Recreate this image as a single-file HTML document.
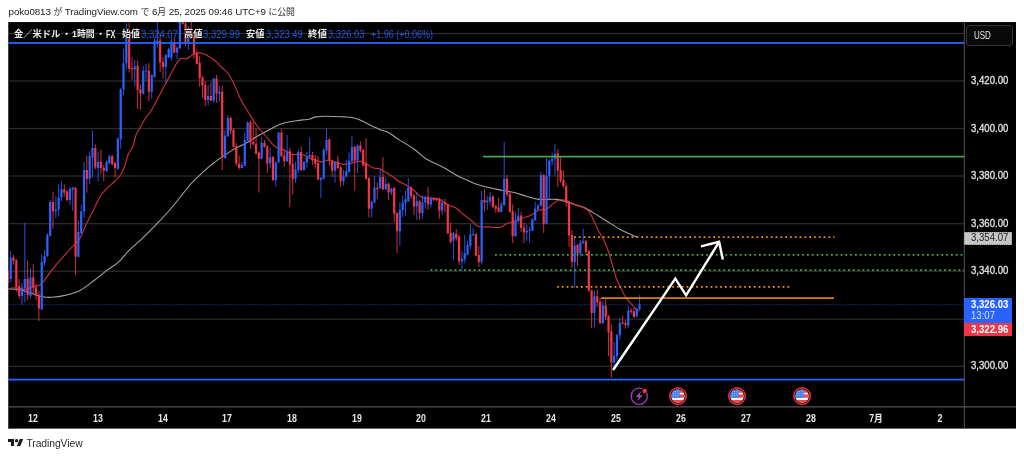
<!DOCTYPE html>
<html lang="ja"><head><meta charset="utf-8"><title>TradingView chart</title>
<style>
html,body{margin:0;padding:0;background:#fff;}
body{width:1024px;height:457px;position:relative;overflow:hidden;font-family:"Liberation Sans","Noto Sans CJK JP",sans-serif;}
.hdr{position:absolute;left:8.6px;top:5.1px;font-size:9.8px;line-height:13px;color:#222;white-space:nowrap;}
.hdr span{font-size:8.9px;color:#333}
.lg{position:absolute;top:27.7px;font-size:9.3px;line-height:13px;white-space:nowrap;transform-origin:0 50%;}
.lb{font-weight:bold;color:#ececec;text-shadow:0 0 2px #000,0 0 2px #000;}
.lv{color:#2457e6;}
.tl{position:absolute;top:411.8px;width:40px;margin-left:-20px;text-align:center;transform:scaleX(0.86);font-size:10.2px;line-height:13px;font-weight:bold;color:#e8e8e8;}
.pl{position:absolute;left:970.9px;width:44px;transform-origin:0 50%;transform:scaleX(0.932);font-size:10.3px;line-height:13px;font-weight:normal;color:#e4e4e4;-webkit-text-stroke:0.3px #e4e4e4;white-space:nowrap;}
.box{position:absolute;left:964.2px;width:47.8px;box-sizing:border-box;padding-left:6.7px;font-size:10.3px;font-weight:bold;white-space:nowrap;}
.box span{display:inline-block;transform-origin:0 50%;transform:scaleX(0.932);}
.usd{position:absolute;left:966px;top:24.5px;width:47px;height:21px;box-sizing:border-box;border:1px solid #353535;border-radius:3px;background:#0a0a0a;color:#e8e8e8;font-size:10.1px;line-height:19.4px;padding-left:6.6px;}
.foot{position:absolute;left:26.4px;top:437.1px;font-size:10.3px;line-height:13px;color:#2a2a2a;}
</style></head><body>

<div class="hdr" style="letter-spacing:-0.104px">poko0813 <span>が</span> TradingView.com <span>で</span> 6<span>月</span> 25, 2025 09:46 UTC+9 <span>に公開</span></div>
<svg width="1008" height="406.6" viewBox="8 22 1008 406.6" style="position:absolute;left:8px;top:22px;display:block">
<defs><clipPath id="pc"><rect x="8" y="22" width="956" height="385"/></clipPath></defs>
<rect x="8" y="22" width="1008" height="406.6" fill="#000"/>
<rect x="8" y="32.9" width="956" height="1.2" fill="#2e2e2e"/>
<rect x="8" y="80.4" width="956" height="1.2" fill="#2e2e2e"/>
<rect x="8" y="127.9" width="956" height="1.2" fill="#2e2e2e"/>
<rect x="8" y="175.4" width="956" height="1.2" fill="#2e2e2e"/>
<rect x="8" y="223.1" width="956" height="1.2" fill="#2e2e2e"/>
<rect x="8" y="270.6" width="956" height="1.2" fill="#2e2e2e"/>
<rect x="8" y="318.6" width="956" height="1.2" fill="#2e2e2e"/>
<rect x="8" y="365.7" width="956" height="1.2" fill="#2e2e2e"/>
<line x1="8" y1="22.5" x2="1016" y2="22.5" stroke="#2c2c2c" stroke-width="1" stroke-dasharray="1 1"/>
<line x1="8" y1="406.9" x2="1016" y2="406.9" stroke="#6c6c6c" stroke-width="1"/>
<line x1="964.3" y1="22" x2="964.3" y2="428.6" stroke="#555" stroke-width="1"/>
<rect x="8" y="22" width="1" height="406.6" fill="#444"/>
<g clip-path="url(#pc)">
<path d="M8 289 C9.76 289.06 15.5 288.81 19 289.4 C22.5 289.99 26.06 291.52 29.9 292.7 C33.74 293.88 39.5 296.06 43 296.8 C46.5 297.54 48.3 297.52 51.8 297.3 C55.3 297.08 60.39 296.47 64.9 295.4 C69.41 294.33 75.28 293.03 80 290.6 C84.72 288.17 90.16 283.4 94.4 280.2 C98.64 277 102.64 273.48 106.5 270.6 C110.36 267.72 115.04 265.27 118.5 262.2 C121.96 259.13 124.24 255.26 128.1 251.4 C131.96 247.54 137.98 242.53 142.6 238.1 C147.22 233.67 152.39 228.52 157 223.7 C161.61 218.88 166.78 213.39 171.4 208 C176.02 202.61 182.36 194.29 185.9 190 C189.44 185.71 189.36 185.3 193.5 181.2 C197.64 177.1 206.6 168.69 211.8 164.4 C217 160.11 222.33 156.9 226 154.4 C229.67 151.9 231.35 150.65 234.75 148.75 C238.15 146.85 243.65 144.5 247.25 142.5 C250.85 140.5 253.65 138.35 257.25 136.25 C260.85 134.15 266.35 131.2 269.75 129.4 C273.15 127.6 275.9 126.1 278.5 125 C281.1 123.9 283 123.2 286 122.5 C289 121.8 293.45 121.16 297.25 120.6 C301.05 120.04 306.95 119.56 309.75 119 C312.55 118.44 312.15 117.54 314.75 117.1 C317.35 116.66 321.32 116.28 326 116.25 C330.68 116.22 339.84 116.7 344 116.9 C348.16 117.1 349.44 117 352 117.5 C354.56 118 357.12 118.8 360 120 C362.88 121.2 366.64 123.4 370 125 C373.36 126.6 378.04 128.8 381 130 C383.96 131.2 385.7 131 388.5 132.5 C391.3 134 394.5 136.8 398.5 139.4 C402.5 142 409.1 145.65 413.5 148.75 C417.9 151.85 421.2 155.75 426 158.75 C430.8 161.75 438.7 164.9 443.5 167.5 C448.3 170.1 452.72 173.2 456 175 C459.28 176.8 460.32 177.15 464 178.75 C467.68 180.35 473 183.15 479 185 C485 186.85 495.9 189.1 501.5 190.3 C507.1 191.5 510 191.55 514 192.5 C518 193.45 522.5 195.15 526.5 196.25 C530.5 197.35 534.2 198.9 539 199.4 C543.8 199.9 551.5 198.81 556.5 199.4 C561.5 199.99 565.85 201.8 570.25 203.1 C574.65 204.4 580.52 206.09 584 207.5 C587.48 208.91 588.64 209.9 592 211.9 C595.36 213.9 600.32 217.1 605 220 C609.68 222.9 615.97 227.2 621.25 230 C626.53 232.8 635.32 236.3 638 237.5" fill="none" stroke="#a4a4a4" stroke-width="1.1" stroke-linejoin="round"/>
<path d="M8 288.8 C9.06 288.62 11.98 287.6 14.6 287.7 C17.22 287.8 21.42 289.56 24.4 289.4 C27.38 289.24 30.75 287.4 33.2 286.7 C35.65 286 38.13 285.7 39.7 285 C41.27 284.3 41.06 284.67 43 282.3 C44.94 279.93 49 273.8 51.8 270.2 C54.6 266.6 57.7 263.03 60.5 259.8 C63.3 256.57 66.2 253.45 69.3 250 C72.4 246.55 77.31 242.13 79.9 238.25 C82.49 234.37 83 230.95 85.5 225.75 C88 220.55 93.1 210.55 95.5 205.75 C97.9 200.95 98.5 198.7 100.5 195.75 C102.5 192.8 105.84 189.5 108 187.3 C110.16 185.1 112 183.97 114 182 C116 180.03 118.9 177.24 120.5 175 C122.1 172.76 122.8 171.2 124 168 C125.2 164.8 126.56 158.52 128 155 C129.44 151.48 131.72 149.2 133 146 C134.28 142.8 135.08 137.56 136 135 C136.92 132.44 137.11 132.92 138.75 130 C140.39 127.08 144.25 119.87 146.25 116.75 C148.25 113.63 149.05 114.1 151.25 110.5 C153.45 106.9 157.6 98.75 160 94.25 C162.4 89.75 164.95 84.84 166.25 82.4 C167.55 79.96 167.1 80.86 168.1 79 C169.1 77.14 171 73.47 172.5 70.75 C174 68.03 176.1 64 177.5 62 C178.9 60 179.85 58.75 181.25 58.25 C182.65 57.75 184.45 59.4 186.25 58.9 C188.05 58.4 190.5 56.11 192.5 55.1 C194.5 54.09 196.55 52.6 198.75 52.6 C200.95 52.6 203.65 53.8 206.25 55.1 C208.85 56.4 212.4 58.65 215 60.75 C217.6 62.85 220.42 66.25 222.5 68.25 C224.58 70.25 226.16 70.73 228 73.25 C229.84 75.77 231.92 79.72 234 84 C236.08 88.28 238.68 95.44 241 100 C243.32 104.56 245.9 108.3 248.5 112.5 C251.1 116.7 254.45 122.45 257.25 126.25 C260.05 130.05 263.6 133.45 266 136.25 C268.4 139.05 270.45 141.85 272.25 143.75 C274.05 145.65 275.45 147.2 277.25 148.1 C279.05 149 282.1 148.9 283.5 149.4 C284.9 149.9 284.6 150.45 286 151.25 C287.4 152.05 290.45 153.9 292.25 154.4 C294.05 154.9 295.45 154.3 297.25 154.4 C299.05 154.5 301.3 154.3 303.5 155 C305.7 155.7 308 157.65 311 158.75 C314 159.85 319.45 161.7 322.25 161.9 C325.05 162.1 326.3 159.9 328.5 160 C330.7 160.1 333.6 161.8 336 162.5 C338.4 163.2 341.1 164.3 343.5 164.4 C345.9 164.5 348.2 163.6 351 163.1 C353.8 162.6 358.4 161.04 361 161.25 C363.6 161.46 365.25 163.3 367.25 164.4 C369.25 165.5 371.5 167.4 373.5 168.1 C375.5 168.8 377.75 168.05 379.75 168.75 C381.75 169.45 384 171.3 386 172.5 C388 173.7 390.25 174.85 392.25 176.25 C394.25 177.65 396.3 179.85 398.5 181.25 C400.7 182.65 403.6 183.6 406 185 C408.4 186.4 411.1 188.1 413.5 190 C415.9 191.9 418.6 195.62 421 196.9 C423.4 198.18 425.5 197.6 428.5 198 C431.5 198.4 436.75 198.38 439.75 199.4 C442.75 200.42 444.65 203.02 447.25 204.4 C449.85 205.78 453.32 206.3 456 208 C458.68 209.7 461.72 213.18 464 215 C466.28 216.82 468.05 217.6 470.25 219.4 C472.45 221.2 474.75 225.05 477.75 226.25 C480.75 227.45 485.4 226.7 489 226.9 C492.6 227.1 497.45 228 500.25 227.5 C503.05 227 504.5 224.65 506.5 223.75 C508.5 222.85 510.15 222.8 512.75 221.9 C515.35 221 519.75 219.2 522.75 218.1 C525.75 217 528.9 216.3 531.5 215 C534.1 213.7 536.6 210.9 539 210 C541.4 209.1 544.5 210.2 546.5 209.4 C548.5 208.6 549.5 206.5 551.5 205 C553.5 203.5 556.6 200.7 559 200 C561.4 199.3 563.7 199.7 566.5 200.6 C569.3 201.5 573.9 204.5 576.5 205.6 C579.1 206.7 580.95 206.8 582.75 207.5 C584.55 208.2 586.27 208.5 587.75 210 C589.23 211.5 590.34 213.7 592 216.9 C593.66 220.1 596.22 226.3 598.1 230 C599.98 233.7 602.05 236.4 603.75 240 C605.45 243.6 607.15 247.7 608.75 252.5 C610.35 257.3 612.45 265.6 613.75 270 C615.05 274.4 615.9 277.4 616.9 280 C617.9 282.6 618.7 283.65 620 286.25 C621.3 288.85 623.4 293.65 625 296.25 C626.6 298.85 628.4 300.6 630 302.5 C631.6 304.4 633.6 306.7 635 308.1 C636.4 309.5 638.15 310.75 638.75 311.25" fill="none" stroke="#d22f3c" stroke-width="1.1" stroke-linejoin="round"/>
<rect x="7.38" y="270" width="1" height="14" fill="#f23645" opacity="0.85"/>
<rect x="6.78" y="271.3" width="2.2" height="11.5" fill="#f23645"/>
<rect x="10.2" y="251" width="1" height="31.8" fill="#2962ff" opacity="0.85"/>
<rect x="9.6" y="257.7" width="2.2" height="21.3" fill="#2962ff"/>
<rect x="13.02" y="255" width="1" height="9.8" fill="#f23645" opacity="0.85"/>
<rect x="12.42" y="257.7" width="2.2" height="3.3" fill="#f23645"/>
<rect x="15.84" y="259" width="1" height="33" fill="#f23645" opacity="0.85"/>
<rect x="15.24" y="260.4" width="2.2" height="26.8" fill="#f23645"/>
<rect x="18.66" y="279" width="1" height="19.7" fill="#f23645" opacity="0.85"/>
<rect x="18.06" y="286" width="2.2" height="10" fill="#f23645"/>
<rect x="21.48" y="283" width="1" height="21.7" fill="#2962ff" opacity="0.85"/>
<rect x="20.88" y="287.5" width="2.2" height="8.5" fill="#2962ff"/>
<rect x="24.3" y="222.6" width="1" height="79.4" fill="#2962ff" opacity="0.85"/>
<rect x="23.7" y="279" width="2.2" height="9.3" fill="#2962ff"/>
<rect x="27.12" y="260.4" width="1" height="39.6" fill="#f23645" opacity="0.85"/>
<rect x="26.52" y="279" width="2.2" height="16" fill="#f23645"/>
<rect x="29.94" y="268.6" width="1" height="30.1" fill="#2962ff" opacity="0.85"/>
<rect x="29.34" y="277.4" width="2.2" height="18.6" fill="#2962ff"/>
<rect x="32.76" y="264" width="1" height="29.8" fill="#f23645" opacity="0.85"/>
<rect x="32.16" y="277.4" width="2.2" height="10.3" fill="#f23645"/>
<rect x="35.58" y="284" width="1" height="16" fill="#f23645" opacity="0.85"/>
<rect x="34.98" y="287.2" width="2.2" height="8.8" fill="#f23645"/>
<rect x="38.4" y="291.5" width="1" height="29.5" fill="#f23645" opacity="0.85"/>
<rect x="37.8" y="294.8" width="2.2" height="13.7" fill="#f23645"/>
<rect x="41.22" y="254.4" width="1" height="55.6" fill="#2962ff" opacity="0.85"/>
<rect x="40.62" y="262" width="2.2" height="47.6" fill="#2962ff"/>
<rect x="44.04" y="250" width="1" height="16" fill="#2962ff" opacity="0.85"/>
<rect x="43.44" y="256" width="2.2" height="7" fill="#2962ff"/>
<rect x="46.86" y="233" width="1" height="24" fill="#2962ff" opacity="0.85"/>
<rect x="46.26" y="235" width="2.2" height="21" fill="#2962ff"/>
<rect x="49.68" y="200" width="1" height="36.5" fill="#2962ff" opacity="0.85"/>
<rect x="49.08" y="202" width="2.2" height="33.75" fill="#2962ff"/>
<rect x="52.5" y="192" width="1" height="36.9" fill="#f23645" opacity="0.85"/>
<rect x="51.9" y="202" width="2.2" height="9.4" fill="#f23645"/>
<rect x="55.32" y="196.4" width="1" height="21.85" fill="#2962ff" opacity="0.85"/>
<rect x="54.72" y="209.5" width="2.2" height="1.5" fill="#2962ff"/>
<rect x="58.14" y="183.75" width="1" height="32.65" fill="#2962ff" opacity="0.85"/>
<rect x="57.54" y="197.6" width="2.2" height="11.9" fill="#2962ff"/>
<rect x="60.96" y="181.25" width="1" height="20.15" fill="#2962ff" opacity="0.85"/>
<rect x="60.36" y="188.9" width="2.2" height="8.7" fill="#2962ff"/>
<rect x="63.78" y="184.4" width="1" height="12" fill="#f23645" opacity="0.85"/>
<rect x="63.18" y="189.5" width="2.2" height="3.1" fill="#f23645"/>
<rect x="66.6" y="190.5" width="1" height="10.9" fill="#f23645" opacity="0.85"/>
<rect x="66" y="191.4" width="2.2" height="8.6" fill="#f23645"/>
<rect x="69.42" y="187" width="1" height="18" fill="#2962ff" opacity="0.85"/>
<rect x="68.82" y="188.9" width="2.2" height="11.1" fill="#2962ff"/>
<rect x="72.24" y="186.5" width="1" height="24.25" fill="#2962ff" opacity="0.85"/>
<rect x="71.64" y="187.6" width="2.2" height="1.9" fill="#2962ff"/>
<rect x="75.06" y="187" width="1" height="87.9" fill="#f23645" opacity="0.85"/>
<rect x="74.46" y="188" width="2.2" height="68.7" fill="#f23645"/>
<rect x="77.88" y="220.75" width="1" height="36.75" fill="#2962ff" opacity="0.85"/>
<rect x="77.28" y="232" width="2.2" height="24.7" fill="#2962ff"/>
<rect x="80.7" y="204.5" width="1" height="29.5" fill="#2962ff" opacity="0.85"/>
<rect x="80.1" y="211.4" width="2.2" height="21.6" fill="#2962ff"/>
<rect x="83.52" y="161.9" width="1" height="55.7" fill="#2962ff" opacity="0.85"/>
<rect x="82.92" y="170" width="2.2" height="41.4" fill="#2962ff"/>
<rect x="86.34" y="155.6" width="1" height="37" fill="#f23645" opacity="0.85"/>
<rect x="85.74" y="170" width="2.2" height="8.75" fill="#f23645"/>
<rect x="89.16" y="151.25" width="1" height="33.15" fill="#2962ff" opacity="0.85"/>
<rect x="88.56" y="156.25" width="2.2" height="22.5" fill="#2962ff"/>
<rect x="91.98" y="130.6" width="1" height="46.9" fill="#2962ff" opacity="0.85"/>
<rect x="91.38" y="148" width="2.2" height="9.5" fill="#2962ff"/>
<rect x="94.8" y="144.4" width="1" height="25" fill="#f23645" opacity="0.85"/>
<rect x="94.2" y="148" width="2.2" height="19.5" fill="#f23645"/>
<rect x="97.62" y="151.9" width="1" height="29.35" fill="#2962ff" opacity="0.85"/>
<rect x="97.02" y="161.9" width="2.2" height="6.1" fill="#2962ff"/>
<rect x="100.44" y="149.4" width="1" height="24.35" fill="#f23645" opacity="0.85"/>
<rect x="99.84" y="161.9" width="2.2" height="6.1" fill="#f23645"/>
<rect x="103.26" y="164.4" width="1" height="16.85" fill="#f23645" opacity="0.85"/>
<rect x="102.66" y="168" width="2.2" height="2.6" fill="#f23645"/>
<rect x="106.08" y="160.6" width="1" height="11.4" fill="#2962ff" opacity="0.85"/>
<rect x="105.48" y="161.9" width="2.2" height="9.35" fill="#2962ff"/>
<rect x="108.9" y="154.4" width="1" height="10" fill="#2962ff" opacity="0.85"/>
<rect x="108.3" y="156.25" width="2.2" height="6.75" fill="#2962ff"/>
<rect x="111.72" y="155" width="1" height="10" fill="#f23645" opacity="0.85"/>
<rect x="111.12" y="156.25" width="2.2" height="8.15" fill="#f23645"/>
<rect x="114.54" y="161.25" width="1" height="16.25" fill="#f23645" opacity="0.85"/>
<rect x="113.94" y="163" width="2.2" height="5" fill="#f23645"/>
<rect x="117.36" y="137.5" width="1" height="32.5" fill="#2962ff" opacity="0.85"/>
<rect x="116.76" y="138.75" width="2.2" height="30" fill="#2962ff"/>
<rect x="120.18" y="88" width="1" height="60.75" fill="#2962ff" opacity="0.85"/>
<rect x="119.58" y="89.25" width="2.2" height="50.15" fill="#2962ff"/>
<rect x="123" y="48.9" width="1" height="46.6" fill="#2962ff" opacity="0.85"/>
<rect x="122.4" y="63.25" width="2.2" height="26" fill="#2962ff"/>
<rect x="125.82" y="23.25" width="1" height="46.25" fill="#2962ff" opacity="0.85"/>
<rect x="125.22" y="38" width="2.2" height="25.25" fill="#2962ff"/>
<rect x="128.64" y="23.25" width="1" height="49.35" fill="#f23645" opacity="0.85"/>
<rect x="128.04" y="37" width="2.2" height="31.9" fill="#f23645"/>
<rect x="131.46" y="57" width="1" height="22.5" fill="#f23645" opacity="0.85"/>
<rect x="130.86" y="68" width="2.2" height="1.2" fill="#f23645"/>
<rect x="134.28" y="60" width="1" height="26" fill="#2962ff" opacity="0.85"/>
<rect x="133.68" y="66.4" width="2.2" height="3.1" fill="#2962ff"/>
<rect x="137.1" y="60.75" width="1" height="47.85" fill="#f23645" opacity="0.85"/>
<rect x="136.5" y="65.75" width="2.2" height="24.15" fill="#f23645"/>
<rect x="139.92" y="84.25" width="1" height="25.65" fill="#f23645" opacity="0.85"/>
<rect x="139.32" y="89.25" width="2.2" height="4.35" fill="#f23645"/>
<rect x="142.74" y="65.75" width="1" height="29.15" fill="#2962ff" opacity="0.85"/>
<rect x="142.14" y="70.75" width="2.2" height="22.85" fill="#2962ff"/>
<rect x="145.56" y="64" width="1" height="17" fill="#2962ff" opacity="0.85"/>
<rect x="144.96" y="70.5" width="2.2" height="1" fill="#2962ff"/>
<rect x="148.38" y="63.25" width="1" height="37.75" fill="#f23645" opacity="0.85"/>
<rect x="147.78" y="70.75" width="2.2" height="21" fill="#f23645"/>
<rect x="151.2" y="74.25" width="1" height="24.35" fill="#2962ff" opacity="0.85"/>
<rect x="150.6" y="75.3" width="2.2" height="16.45" fill="#2962ff"/>
<rect x="154.02" y="38.25" width="1" height="39.15" fill="#2962ff" opacity="0.85"/>
<rect x="153.42" y="40.75" width="2.2" height="36.25" fill="#2962ff"/>
<rect x="156.84" y="22" width="1" height="25.6" fill="#2962ff" opacity="0.85"/>
<rect x="156.24" y="40.75" width="2.2" height="1.25" fill="#2962ff"/>
<rect x="159.66" y="34.5" width="1" height="37.5" fill="#f23645" opacity="0.85"/>
<rect x="159.06" y="40.75" width="2.2" height="21.85" fill="#f23645"/>
<rect x="162.48" y="57" width="1" height="21.6" fill="#f23645" opacity="0.85"/>
<rect x="161.88" y="62" width="2.2" height="5" fill="#f23645"/>
<rect x="165.3" y="54" width="1" height="28.4" fill="#2962ff" opacity="0.85"/>
<rect x="164.7" y="55.1" width="2.2" height="11.9" fill="#2962ff"/>
<rect x="168.12" y="47.5" width="1" height="10.5" fill="#2962ff" opacity="0.85"/>
<rect x="167.52" y="48.9" width="2.2" height="8.7" fill="#2962ff"/>
<rect x="170.94" y="38.25" width="1" height="22.5" fill="#2962ff" opacity="0.85"/>
<rect x="170.34" y="41.4" width="2.2" height="16.2" fill="#2962ff"/>
<rect x="173.76" y="38.25" width="1" height="14.75" fill="#f23645" opacity="0.85"/>
<rect x="173.16" y="42" width="2.2" height="10.6" fill="#f23645"/>
<rect x="176.58" y="46.4" width="1" height="13.1" fill="#2962ff" opacity="0.85"/>
<rect x="175.98" y="47.6" width="2.2" height="5" fill="#2962ff"/>
<rect x="179.4" y="15" width="1" height="34" fill="#2962ff" opacity="0.85"/>
<rect x="178.8" y="18" width="2.2" height="30.25" fill="#2962ff"/>
<rect x="182.22" y="15" width="1" height="9.5" fill="#f23645" opacity="0.85"/>
<rect x="181.62" y="18" width="2.2" height="5.8" fill="#f23645"/>
<rect x="185.04" y="15" width="1" height="31.4" fill="#f23645" opacity="0.85"/>
<rect x="184.44" y="23.8" width="2.2" height="18.2" fill="#f23645"/>
<rect x="187.86" y="26.4" width="1" height="23.6" fill="#2962ff" opacity="0.85"/>
<rect x="187.26" y="28.25" width="2.2" height="13.75" fill="#2962ff"/>
<rect x="190.68" y="20" width="1" height="15" fill="#f23645" opacity="0.85"/>
<rect x="190.08" y="28.25" width="2.2" height="6.25" fill="#f23645"/>
<rect x="193.5" y="33.5" width="1" height="25.4" fill="#f23645" opacity="0.85"/>
<rect x="192.9" y="34.5" width="2.2" height="19.4" fill="#f23645"/>
<rect x="196.32" y="49.5" width="1" height="15" fill="#f23645" opacity="0.85"/>
<rect x="195.72" y="53.25" width="2.2" height="10.65" fill="#f23645"/>
<rect x="199.14" y="55.75" width="1" height="31" fill="#f23645" opacity="0.85"/>
<rect x="198.54" y="62.6" width="2.2" height="15.4" fill="#f23645"/>
<rect x="201.96" y="76" width="1" height="22" fill="#f23645" opacity="0.85"/>
<rect x="201.36" y="77.4" width="2.2" height="8.1" fill="#f23645"/>
<rect x="204.78" y="81" width="1" height="25" fill="#f23645" opacity="0.85"/>
<rect x="204.18" y="84.9" width="2.2" height="15" fill="#f23645"/>
<rect x="207.6" y="84.9" width="1" height="20.6" fill="#2962ff" opacity="0.85"/>
<rect x="207" y="96" width="2.2" height="3.9" fill="#2962ff"/>
<rect x="210.42" y="82.4" width="1" height="18.7" fill="#f23645" opacity="0.85"/>
<rect x="209.82" y="96" width="2.2" height="4.5" fill="#f23645"/>
<rect x="213.24" y="77.5" width="1" height="25.5" fill="#2962ff" opacity="0.85"/>
<rect x="212.64" y="78.6" width="2.2" height="21.9" fill="#2962ff"/>
<rect x="216.06" y="74.9" width="1" height="28.1" fill="#f23645" opacity="0.85"/>
<rect x="215.46" y="78.6" width="2.2" height="15" fill="#f23645"/>
<rect x="218.88" y="86" width="1" height="15.75" fill="#2962ff" opacity="0.85"/>
<rect x="218.28" y="91.75" width="2.2" height="1.85" fill="#2962ff"/>
<rect x="221.7" y="85.5" width="1" height="84.5" fill="#f23645" opacity="0.85"/>
<rect x="221.1" y="91.75" width="2.2" height="65.15" fill="#f23645"/>
<rect x="224.52" y="130" width="1" height="29" fill="#2962ff" opacity="0.85"/>
<rect x="223.92" y="135.6" width="2.2" height="22.4" fill="#2962ff"/>
<rect x="227.34" y="115" width="1" height="22" fill="#2962ff" opacity="0.85"/>
<rect x="226.74" y="118.1" width="2.2" height="18.15" fill="#2962ff"/>
<rect x="230.16" y="116.25" width="1" height="18.15" fill="#f23645" opacity="0.85"/>
<rect x="229.56" y="118.1" width="2.2" height="12.5" fill="#f23645"/>
<rect x="232.98" y="128" width="1" height="19.5" fill="#f23645" opacity="0.85"/>
<rect x="232.38" y="130" width="2.2" height="16.9" fill="#f23645"/>
<rect x="235.8" y="143" width="1" height="23.25" fill="#f23645" opacity="0.85"/>
<rect x="235.2" y="146.25" width="2.2" height="17.5" fill="#f23645"/>
<rect x="238.62" y="155.6" width="1" height="13.8" fill="#f23645" opacity="0.85"/>
<rect x="238.02" y="163.75" width="2.2" height="4.25" fill="#f23645"/>
<rect x="241.44" y="162" width="1" height="6.5" fill="#2962ff" opacity="0.85"/>
<rect x="240.84" y="165" width="2.2" height="3" fill="#2962ff"/>
<rect x="244.26" y="132.5" width="1" height="33.5" fill="#2962ff" opacity="0.85"/>
<rect x="243.66" y="140" width="2.2" height="25.6" fill="#2962ff"/>
<rect x="247.08" y="121.25" width="1" height="19.75" fill="#2962ff" opacity="0.85"/>
<rect x="246.48" y="122.5" width="2.2" height="18.1" fill="#2962ff"/>
<rect x="249.9" y="120.6" width="1" height="28.15" fill="#f23645" opacity="0.85"/>
<rect x="249.3" y="122.5" width="2.2" height="20" fill="#f23645"/>
<rect x="252.72" y="122" width="1" height="23" fill="#f23645" opacity="0.85"/>
<rect x="252.12" y="142" width="2.2" height="2.4" fill="#f23645"/>
<rect x="255.54" y="128" width="1" height="26.5" fill="#f23645" opacity="0.85"/>
<rect x="254.94" y="143.75" width="2.2" height="10" fill="#f23645"/>
<rect x="258.36" y="151.5" width="1" height="41" fill="#f23645" opacity="0.85"/>
<rect x="257.76" y="152.5" width="2.2" height="6.25" fill="#f23645"/>
<rect x="261.18" y="137.5" width="1" height="22" fill="#2962ff" opacity="0.85"/>
<rect x="260.58" y="143" width="2.2" height="15.75" fill="#2962ff"/>
<rect x="264" y="140" width="1" height="7.5" fill="#f23645" opacity="0.85"/>
<rect x="263.4" y="143" width="2.2" height="3.9" fill="#f23645"/>
<rect x="266.82" y="145.5" width="1" height="27.5" fill="#f23645" opacity="0.85"/>
<rect x="266.22" y="146.25" width="2.2" height="17.5" fill="#f23645"/>
<rect x="269.64" y="148" width="1" height="20" fill="#2962ff" opacity="0.85"/>
<rect x="269.04" y="157.5" width="2.2" height="5.6" fill="#2962ff"/>
<rect x="272.46" y="156" width="1" height="25.25" fill="#f23645" opacity="0.85"/>
<rect x="271.86" y="157" width="2.2" height="23" fill="#f23645"/>
<rect x="275.28" y="161.5" width="1" height="25.4" fill="#2962ff" opacity="0.85"/>
<rect x="274.68" y="162.5" width="2.2" height="17.5" fill="#2962ff"/>
<rect x="278.1" y="131.9" width="1" height="31.1" fill="#2962ff" opacity="0.85"/>
<rect x="277.5" y="132.5" width="2.2" height="30" fill="#2962ff"/>
<rect x="280.92" y="128.75" width="1" height="28.25" fill="#f23645" opacity="0.85"/>
<rect x="280.32" y="132.5" width="2.2" height="23.75" fill="#f23645"/>
<rect x="283.74" y="149.4" width="1" height="17.5" fill="#f23645" opacity="0.85"/>
<rect x="283.14" y="155.6" width="2.2" height="5.65" fill="#f23645"/>
<rect x="286.56" y="135" width="1" height="27" fill="#2962ff" opacity="0.85"/>
<rect x="285.96" y="151" width="2.2" height="10.25" fill="#2962ff"/>
<rect x="289.38" y="148" width="1" height="59" fill="#f23645" opacity="0.85"/>
<rect x="288.78" y="151.25" width="2.2" height="13.15" fill="#f23645"/>
<rect x="292.2" y="155" width="1" height="39.4" fill="#f23645" opacity="0.85"/>
<rect x="291.6" y="163.75" width="2.2" height="15" fill="#f23645"/>
<rect x="295.02" y="162" width="1" height="21" fill="#2962ff" opacity="0.85"/>
<rect x="294.42" y="169.4" width="2.2" height="9.35" fill="#2962ff"/>
<rect x="297.84" y="149.4" width="1" height="23.6" fill="#2962ff" opacity="0.85"/>
<rect x="297.24" y="151.9" width="2.2" height="18.1" fill="#2962ff"/>
<rect x="300.66" y="146.25" width="1" height="24.75" fill="#f23645" opacity="0.85"/>
<rect x="300.06" y="151.9" width="2.2" height="18.1" fill="#f23645"/>
<rect x="303.48" y="161" width="1" height="10" fill="#2962ff" opacity="0.85"/>
<rect x="302.88" y="162" width="2.2" height="8" fill="#2962ff"/>
<rect x="306.3" y="151.9" width="1" height="15.6" fill="#2962ff" opacity="0.85"/>
<rect x="305.7" y="157" width="2.2" height="5.5" fill="#2962ff"/>
<rect x="309.12" y="137.5" width="1" height="20.5" fill="#2962ff" opacity="0.85"/>
<rect x="308.52" y="155" width="2.2" height="2" fill="#2962ff"/>
<rect x="311.94" y="151.9" width="1" height="12.5" fill="#f23645" opacity="0.85"/>
<rect x="311.34" y="155" width="2.2" height="5" fill="#f23645"/>
<rect x="314.76" y="155" width="1" height="13.75" fill="#f23645" opacity="0.85"/>
<rect x="314.16" y="158.75" width="2.2" height="5" fill="#f23645"/>
<rect x="317.58" y="156.25" width="1" height="23.75" fill="#f23645" opacity="0.85"/>
<rect x="316.98" y="163.1" width="2.2" height="16.3" fill="#f23645"/>
<rect x="320.4" y="177" width="1" height="21" fill="#2962ff" opacity="0.85"/>
<rect x="319.8" y="178" width="2.2" height="2" fill="#2962ff"/>
<rect x="323.22" y="148.1" width="1" height="31.4" fill="#2962ff" opacity="0.85"/>
<rect x="322.62" y="150" width="2.2" height="28.75" fill="#2962ff"/>
<rect x="326.04" y="128.75" width="1" height="25" fill="#2962ff" opacity="0.85"/>
<rect x="325.44" y="140" width="2.2" height="10.6" fill="#2962ff"/>
<rect x="328.86" y="138.5" width="1" height="27.1" fill="#f23645" opacity="0.85"/>
<rect x="328.26" y="139.4" width="2.2" height="21.2" fill="#f23645"/>
<rect x="331.68" y="159.5" width="1" height="17.5" fill="#f23645" opacity="0.85"/>
<rect x="331.08" y="160.6" width="2.2" height="10" fill="#f23645"/>
<rect x="334.5" y="161" width="1" height="21.5" fill="#2962ff" opacity="0.85"/>
<rect x="333.9" y="162" width="2.2" height="8.6" fill="#2962ff"/>
<rect x="337.32" y="155.6" width="1" height="13.4" fill="#f23645" opacity="0.85"/>
<rect x="336.72" y="161.5" width="2.2" height="6.5" fill="#f23645"/>
<rect x="340.14" y="166" width="1" height="20.9" fill="#f23645" opacity="0.85"/>
<rect x="339.54" y="167.5" width="2.2" height="13.75" fill="#f23645"/>
<rect x="342.96" y="170" width="1" height="15.6" fill="#2962ff" opacity="0.85"/>
<rect x="342.36" y="176.25" width="2.2" height="5" fill="#2962ff"/>
<rect x="345.78" y="159.4" width="1" height="18.6" fill="#2962ff" opacity="0.85"/>
<rect x="345.18" y="171.25" width="2.2" height="5" fill="#2962ff"/>
<rect x="348.6" y="152.5" width="1" height="20" fill="#2962ff" opacity="0.85"/>
<rect x="348" y="160.6" width="2.2" height="11.3" fill="#2962ff"/>
<rect x="351.42" y="135.6" width="1" height="26.4" fill="#2962ff" opacity="0.85"/>
<rect x="350.82" y="146.9" width="2.2" height="14.35" fill="#2962ff"/>
<rect x="354.24" y="146" width="1" height="44.6" fill="#f23645" opacity="0.85"/>
<rect x="353.64" y="146.9" width="2.2" height="13.7" fill="#f23645"/>
<rect x="357.06" y="144.5" width="1" height="28.5" fill="#2962ff" opacity="0.85"/>
<rect x="356.46" y="145.6" width="2.2" height="15" fill="#2962ff"/>
<rect x="359.88" y="141.25" width="1" height="11.25" fill="#f23645" opacity="0.85"/>
<rect x="359.28" y="145.6" width="2.2" height="5" fill="#f23645"/>
<rect x="362.7" y="148.75" width="1" height="17.75" fill="#f23645" opacity="0.85"/>
<rect x="362.1" y="150" width="2.2" height="15.6" fill="#f23645"/>
<rect x="365.52" y="138" width="1" height="42" fill="#f23645" opacity="0.85"/>
<rect x="364.92" y="163.1" width="2.2" height="15.65" fill="#f23645"/>
<rect x="368.34" y="177" width="1" height="40.5" fill="#f23645" opacity="0.85"/>
<rect x="367.74" y="178.1" width="2.2" height="30.65" fill="#f23645"/>
<rect x="371.16" y="200.5" width="1" height="17" fill="#2962ff" opacity="0.85"/>
<rect x="370.56" y="201.9" width="2.2" height="6.85" fill="#2962ff"/>
<rect x="373.98" y="176.25" width="1" height="26.75" fill="#2962ff" opacity="0.85"/>
<rect x="373.38" y="187.5" width="2.2" height="15" fill="#2962ff"/>
<rect x="376.8" y="182.5" width="1" height="16.25" fill="#f23645" opacity="0.85"/>
<rect x="376.2" y="187.5" width="2.2" height="1.5" fill="#f23645"/>
<rect x="379.62" y="168.75" width="1" height="20.25" fill="#2962ff" opacity="0.85"/>
<rect x="379.02" y="177" width="2.2" height="11.1" fill="#2962ff"/>
<rect x="382.44" y="157" width="1" height="33" fill="#f23645" opacity="0.85"/>
<rect x="381.84" y="177" width="2.2" height="12.4" fill="#f23645"/>
<rect x="385.26" y="177.5" width="1" height="12.5" fill="#2962ff" opacity="0.85"/>
<rect x="384.66" y="183.75" width="2.2" height="5.65" fill="#2962ff"/>
<rect x="388.08" y="182.5" width="1" height="17.5" fill="#f23645" opacity="0.85"/>
<rect x="387.48" y="183.75" width="2.2" height="8.75" fill="#f23645"/>
<rect x="390.9" y="187.5" width="1" height="7.5" fill="#2962ff" opacity="0.85"/>
<rect x="390.3" y="188.75" width="2.2" height="3.75" fill="#2962ff"/>
<rect x="393.72" y="187" width="1" height="35.5" fill="#f23645" opacity="0.85"/>
<rect x="393.12" y="188.1" width="2.2" height="25.65" fill="#f23645"/>
<rect x="396.54" y="212" width="1" height="41.25" fill="#f23645" opacity="0.85"/>
<rect x="395.94" y="213.1" width="2.2" height="17.9" fill="#f23645"/>
<rect x="399.36" y="202" width="1" height="43.75" fill="#2962ff" opacity="0.85"/>
<rect x="398.76" y="210" width="2.2" height="21" fill="#2962ff"/>
<rect x="402.18" y="195.6" width="1" height="21.9" fill="#2962ff" opacity="0.85"/>
<rect x="401.58" y="202.5" width="2.2" height="7.5" fill="#2962ff"/>
<rect x="405" y="190.6" width="1" height="25" fill="#2962ff" opacity="0.85"/>
<rect x="404.4" y="199.4" width="2.2" height="3.6" fill="#2962ff"/>
<rect x="407.82" y="178" width="1" height="24" fill="#2962ff" opacity="0.85"/>
<rect x="407.22" y="187.5" width="2.2" height="13.75" fill="#2962ff"/>
<rect x="410.64" y="186.5" width="1" height="12.25" fill="#f23645" opacity="0.85"/>
<rect x="410.04" y="187.5" width="2.2" height="8.75" fill="#f23645"/>
<rect x="413.46" y="193.75" width="1" height="21.25" fill="#f23645" opacity="0.85"/>
<rect x="412.86" y="195.6" width="2.2" height="10.65" fill="#f23645"/>
<rect x="416.28" y="192.5" width="1" height="27.5" fill="#2962ff" opacity="0.85"/>
<rect x="415.68" y="201.25" width="2.2" height="5" fill="#2962ff"/>
<rect x="419.1" y="200" width="1" height="20" fill="#f23645" opacity="0.85"/>
<rect x="418.5" y="201.25" width="2.2" height="11.85" fill="#f23645"/>
<rect x="421.92" y="195" width="1" height="23.75" fill="#2962ff" opacity="0.85"/>
<rect x="421.32" y="202.5" width="2.2" height="10.6" fill="#2962ff"/>
<rect x="424.74" y="195.5" width="1" height="13.25" fill="#2962ff" opacity="0.85"/>
<rect x="424.14" y="196.9" width="2.2" height="5.6" fill="#2962ff"/>
<rect x="427.56" y="186.9" width="1" height="23.1" fill="#f23645" opacity="0.85"/>
<rect x="426.96" y="196.9" width="2.2" height="7.5" fill="#f23645"/>
<rect x="430.38" y="196.25" width="1" height="11.25" fill="#2962ff" opacity="0.85"/>
<rect x="429.78" y="198.1" width="2.2" height="6.3" fill="#2962ff"/>
<rect x="433.2" y="197" width="1" height="4" fill="#f23645" opacity="0.85"/>
<rect x="432.6" y="198.1" width="2.2" height="1.9" fill="#f23645"/>
<rect x="436.02" y="197.5" width="1" height="3.5" fill="#f23645" opacity="0.85"/>
<rect x="435.42" y="198.75" width="2.2" height="1.45" fill="#f23645"/>
<rect x="438.84" y="197.5" width="1" height="21.25" fill="#f23645" opacity="0.85"/>
<rect x="438.24" y="198.75" width="2.2" height="11.85" fill="#f23645"/>
<rect x="441.66" y="198.75" width="1" height="16.25" fill="#2962ff" opacity="0.85"/>
<rect x="441.06" y="202.5" width="2.2" height="8.1" fill="#2962ff"/>
<rect x="444.48" y="198.75" width="1" height="13.75" fill="#f23645" opacity="0.85"/>
<rect x="443.88" y="202.5" width="2.2" height="1.9" fill="#f23645"/>
<rect x="447.3" y="203.5" width="1" height="30.5" fill="#f23645" opacity="0.85"/>
<rect x="446.7" y="204.4" width="2.2" height="28.85" fill="#f23645"/>
<rect x="450.12" y="222.5" width="1" height="21.4" fill="#f23645" opacity="0.85"/>
<rect x="449.52" y="232.6" width="2.2" height="9.4" fill="#f23645"/>
<rect x="452.94" y="232" width="1" height="28" fill="#2962ff" opacity="0.85"/>
<rect x="452.34" y="233.25" width="2.2" height="7.5" fill="#2962ff"/>
<rect x="455.76" y="228.9" width="1" height="11.85" fill="#f23645" opacity="0.85"/>
<rect x="455.16" y="233.9" width="2.2" height="4.35" fill="#f23645"/>
<rect x="458.58" y="234.5" width="1" height="30.5" fill="#f23645" opacity="0.85"/>
<rect x="457.98" y="236.4" width="2.2" height="25" fill="#f23645"/>
<rect x="461.4" y="250.75" width="1" height="20" fill="#2962ff" opacity="0.85"/>
<rect x="460.8" y="258.9" width="2.2" height="2.5" fill="#2962ff"/>
<rect x="464.22" y="235" width="1" height="28.25" fill="#2962ff" opacity="0.85"/>
<rect x="463.62" y="253.25" width="2.2" height="6.25" fill="#2962ff"/>
<rect x="467.04" y="240.75" width="1" height="14.75" fill="#2962ff" opacity="0.85"/>
<rect x="466.44" y="245" width="2.2" height="9.5" fill="#2962ff"/>
<rect x="469.86" y="224.5" width="1" height="24.4" fill="#2962ff" opacity="0.85"/>
<rect x="469.26" y="234.5" width="2.2" height="11.25" fill="#2962ff"/>
<rect x="472.68" y="228.25" width="1" height="7.75" fill="#2962ff" opacity="0.85"/>
<rect x="472.08" y="234" width="2.2" height="1" fill="#2962ff"/>
<rect x="475.5" y="232.6" width="1" height="23.9" fill="#f23645" opacity="0.85"/>
<rect x="474.9" y="234.4" width="2.2" height="21.35" fill="#f23645"/>
<rect x="478.32" y="245.75" width="1" height="21.25" fill="#f23645" opacity="0.85"/>
<rect x="477.72" y="255.1" width="2.2" height="6.9" fill="#f23645"/>
<rect x="481.14" y="190.6" width="1" height="73.9" fill="#2962ff" opacity="0.85"/>
<rect x="480.54" y="200" width="2.2" height="62" fill="#2962ff"/>
<rect x="483.96" y="189.4" width="1" height="22.5" fill="#f23645" opacity="0.85"/>
<rect x="483.36" y="200" width="2.2" height="2.5" fill="#f23645"/>
<rect x="486.78" y="196.25" width="1" height="13.75" fill="#2962ff" opacity="0.85"/>
<rect x="486.18" y="200.6" width="2.2" height="1.9" fill="#2962ff"/>
<rect x="489.6" y="191.9" width="1" height="13.7" fill="#2962ff" opacity="0.85"/>
<rect x="489" y="196.9" width="2.2" height="4.35" fill="#2962ff"/>
<rect x="492.42" y="195.5" width="1" height="12.5" fill="#f23645" opacity="0.85"/>
<rect x="491.82" y="196.25" width="2.2" height="10.65" fill="#f23645"/>
<rect x="495.24" y="205" width="1" height="8" fill="#f23645" opacity="0.85"/>
<rect x="494.64" y="206.25" width="2.2" height="2.5" fill="#f23645"/>
<rect x="498.06" y="198" width="1" height="14.5" fill="#f23645" opacity="0.85"/>
<rect x="497.46" y="207.5" width="2.2" height="4.4" fill="#f23645"/>
<rect x="500.88" y="201.9" width="1" height="10.6" fill="#2962ff" opacity="0.85"/>
<rect x="500.28" y="204.4" width="2.2" height="7.5" fill="#2962ff"/>
<rect x="503.7" y="141.9" width="1" height="64.1" fill="#2962ff" opacity="0.85"/>
<rect x="503.1" y="178.75" width="2.2" height="26.25" fill="#2962ff"/>
<rect x="506.52" y="175" width="1" height="21.9" fill="#f23645" opacity="0.85"/>
<rect x="505.92" y="178.75" width="2.2" height="15.65" fill="#f23645"/>
<rect x="509.34" y="191.9" width="1" height="20.6" fill="#f23645" opacity="0.85"/>
<rect x="508.74" y="193.75" width="2.2" height="18.15" fill="#f23645"/>
<rect x="512.16" y="204.4" width="1" height="38.6" fill="#f23645" opacity="0.85"/>
<rect x="511.56" y="211.25" width="2.2" height="25" fill="#f23645"/>
<rect x="514.98" y="212.5" width="1" height="24.5" fill="#2962ff" opacity="0.85"/>
<rect x="514.38" y="220.6" width="2.2" height="15.65" fill="#2962ff"/>
<rect x="517.8" y="208" width="1" height="14.5" fill="#2962ff" opacity="0.85"/>
<rect x="517.2" y="215.6" width="2.2" height="5.65" fill="#2962ff"/>
<rect x="520.62" y="211.9" width="1" height="20.1" fill="#f23645" opacity="0.85"/>
<rect x="520.02" y="215.6" width="2.2" height="12.4" fill="#f23645"/>
<rect x="523.44" y="223" width="1" height="20" fill="#f23645" opacity="0.85"/>
<rect x="522.84" y="227.5" width="2.2" height="5" fill="#f23645"/>
<rect x="526.26" y="224.4" width="1" height="16.6" fill="#2962ff" opacity="0.85"/>
<rect x="525.66" y="230.6" width="2.2" height="1.9" fill="#2962ff"/>
<rect x="529.08" y="226.9" width="1" height="15.6" fill="#2962ff" opacity="0.85"/>
<rect x="528.48" y="229.8" width="2.2" height="1" fill="#2962ff"/>
<rect x="531.9" y="218" width="1" height="13" fill="#2962ff" opacity="0.85"/>
<rect x="531.3" y="219.4" width="2.2" height="11.2" fill="#2962ff"/>
<rect x="534.72" y="201.9" width="1" height="19.1" fill="#2962ff" opacity="0.85"/>
<rect x="534.12" y="208.75" width="2.2" height="11.25" fill="#2962ff"/>
<rect x="537.54" y="203.75" width="1" height="6.25" fill="#2962ff" opacity="0.85"/>
<rect x="536.94" y="205.6" width="2.2" height="3.8" fill="#2962ff"/>
<rect x="540.36" y="171.9" width="1" height="34.6" fill="#2962ff" opacity="0.85"/>
<rect x="539.76" y="175" width="2.2" height="30.6" fill="#2962ff"/>
<rect x="543.18" y="173.75" width="1" height="59.25" fill="#f23645" opacity="0.85"/>
<rect x="542.58" y="175" width="2.2" height="48.75" fill="#f23645"/>
<rect x="546" y="158" width="1" height="66.5" fill="#2962ff" opacity="0.85"/>
<rect x="545.4" y="176.25" width="2.2" height="47.5" fill="#2962ff"/>
<rect x="548.82" y="159.5" width="1" height="39.25" fill="#2962ff" opacity="0.85"/>
<rect x="548.22" y="160.6" width="2.2" height="15.65" fill="#2962ff"/>
<rect x="551.64" y="152.5" width="1" height="12.5" fill="#2962ff" opacity="0.85"/>
<rect x="551.04" y="158.75" width="2.2" height="2.5" fill="#2962ff"/>
<rect x="554.46" y="144.4" width="1" height="31.2" fill="#2962ff" opacity="0.85"/>
<rect x="553.86" y="153.75" width="2.2" height="5" fill="#2962ff"/>
<rect x="557.28" y="149.4" width="1" height="37.5" fill="#f23645" opacity="0.85"/>
<rect x="556.68" y="153.1" width="2.2" height="17.5" fill="#f23645"/>
<rect x="560.1" y="157" width="1" height="26" fill="#f23645" opacity="0.85"/>
<rect x="559.5" y="170" width="2.2" height="10.6" fill="#f23645"/>
<rect x="562.92" y="170.6" width="1" height="16.9" fill="#f23645" opacity="0.85"/>
<rect x="562.32" y="180" width="2.2" height="6.25" fill="#f23645"/>
<rect x="565.74" y="183" width="1" height="23.9" fill="#f23645" opacity="0.85"/>
<rect x="565.14" y="186.25" width="2.2" height="16.25" fill="#f23645"/>
<rect x="568.56" y="201" width="1" height="45.9" fill="#f23645" opacity="0.85"/>
<rect x="567.96" y="202.5" width="2.2" height="33.1" fill="#f23645"/>
<rect x="571.38" y="230" width="1" height="38" fill="#f23645" opacity="0.85"/>
<rect x="570.78" y="235" width="2.2" height="26.9" fill="#f23645"/>
<rect x="574.2" y="235.6" width="1" height="52.4" fill="#2962ff" opacity="0.85"/>
<rect x="573.6" y="245.6" width="2.2" height="16.3" fill="#2962ff"/>
<rect x="577.02" y="244" width="1" height="22.25" fill="#f23645" opacity="0.85"/>
<rect x="576.42" y="245" width="2.2" height="8.75" fill="#f23645"/>
<rect x="579.84" y="240" width="1" height="16.9" fill="#2962ff" opacity="0.85"/>
<rect x="579.24" y="242.5" width="2.2" height="11.25" fill="#2962ff"/>
<rect x="582.66" y="228.75" width="1" height="15.25" fill="#2962ff" opacity="0.85"/>
<rect x="582.06" y="241.25" width="2.2" height="1.85" fill="#2962ff"/>
<rect x="585.48" y="239.4" width="1" height="15.6" fill="#f23645" opacity="0.85"/>
<rect x="584.88" y="241.25" width="2.2" height="10.65" fill="#f23645"/>
<rect x="588.3" y="250" width="1" height="42" fill="#f23645" opacity="0.85"/>
<rect x="587.7" y="251.25" width="2.2" height="39.35" fill="#f23645"/>
<rect x="591.12" y="289.5" width="1" height="38.5" fill="#f23645" opacity="0.85"/>
<rect x="590.52" y="290.6" width="2.2" height="22.4" fill="#f23645"/>
<rect x="593.94" y="290.6" width="1" height="36.9" fill="#2962ff" opacity="0.85"/>
<rect x="593.34" y="296.25" width="2.2" height="16.75" fill="#2962ff"/>
<rect x="596.76" y="289.4" width="1" height="17.5" fill="#f23645" opacity="0.85"/>
<rect x="596.16" y="296.25" width="2.2" height="6.25" fill="#f23645"/>
<rect x="599.58" y="298" width="1" height="26" fill="#f23645" opacity="0.85"/>
<rect x="598.98" y="301.9" width="2.2" height="21.1" fill="#f23645"/>
<rect x="602.4" y="300.6" width="1" height="23.4" fill="#2962ff" opacity="0.85"/>
<rect x="601.8" y="305.6" width="2.2" height="17.4" fill="#2962ff"/>
<rect x="605.22" y="298.75" width="1" height="21.25" fill="#f23645" opacity="0.85"/>
<rect x="604.62" y="305.6" width="2.2" height="11.3" fill="#f23645"/>
<rect x="608.04" y="315" width="1" height="41.25" fill="#f23645" opacity="0.85"/>
<rect x="607.44" y="316.25" width="2.2" height="16.25" fill="#f23645"/>
<rect x="610.86" y="323.75" width="1" height="53.75" fill="#f23645" opacity="0.85"/>
<rect x="610.26" y="331.25" width="2.2" height="31.25" fill="#f23645"/>
<rect x="613.68" y="342" width="1" height="25.5" fill="#2962ff" opacity="0.85"/>
<rect x="613.08" y="355.6" width="2.2" height="6.9" fill="#2962ff"/>
<rect x="616.5" y="334" width="1" height="27" fill="#2962ff" opacity="0.85"/>
<rect x="615.9" y="335" width="2.2" height="21.25" fill="#2962ff"/>
<rect x="619.32" y="318" width="1" height="21.4" fill="#2962ff" opacity="0.85"/>
<rect x="618.72" y="323" width="2.2" height="12" fill="#2962ff"/>
<rect x="622.14" y="315.6" width="1" height="8.8" fill="#f23645" opacity="0.85"/>
<rect x="621.54" y="322.5" width="2.2" height="1.25" fill="#f23645"/>
<rect x="624.96" y="320" width="1" height="8.75" fill="#f23645" opacity="0.85"/>
<rect x="624.36" y="323.1" width="2.2" height="1.9" fill="#f23645"/>
<rect x="627.78" y="305.6" width="1" height="22.4" fill="#2962ff" opacity="0.85"/>
<rect x="627.18" y="310.6" width="2.2" height="15" fill="#2962ff"/>
<rect x="630.6" y="308.1" width="1" height="6.3" fill="#f23645" opacity="0.85"/>
<rect x="630" y="310.6" width="2.2" height="1.4" fill="#f23645"/>
<rect x="633.42" y="308.1" width="1" height="9.4" fill="#f23645" opacity="0.85"/>
<rect x="632.82" y="311.25" width="2.2" height="5.65" fill="#f23645"/>
<rect x="636.24" y="307.5" width="1" height="9.5" fill="#2962ff" opacity="0.85"/>
<rect x="635.64" y="308.75" width="2.2" height="7.5" fill="#2962ff"/>
<rect x="639.06" y="295" width="1" height="15.6" fill="#2962ff" opacity="0.85"/>
<rect x="638.46" y="304.4" width="2.2" height="5" fill="#2962ff"/>
<line x1="8" y1="304.7" x2="964" y2="304.7" stroke="#2962ff" stroke-width="1" stroke-dasharray="1.2 1.2" opacity="0.55"/>
<rect x="8" y="42.1" width="956" height="1.8" fill="#2962ff"/>
<rect x="8" y="378.7" width="956" height="1.8" fill="#2962ff"/>
<rect x="483" y="155.8" width="481" height="1.6" fill="#4caf50"/>
<rect x="601" y="297.3" width="233" height="1.6" fill="#ea8c00"/>
<line x1="430.5" y1="270.1" x2="964" y2="270.1" stroke="#46a84b" stroke-width="1.8" stroke-dasharray="1.8 3"/>
<line x1="495" y1="254.9" x2="964" y2="254.9" stroke="#46a84b" stroke-width="1.8" stroke-dasharray="1.8 3"/>
<line x1="574" y1="237.2" x2="834.5" y2="237.2" stroke="#f09000" stroke-width="1.8" stroke-dasharray="1.8 3"/>
<line x1="557" y1="286.8" x2="790" y2="286.8" stroke="#f09000" stroke-width="1.8" stroke-dasharray="1.8 3"/>
<path d="M613.1 370 L675.3 278.6 L686.1 295.3 L719.1 241.9" fill="none" stroke="#fff" stroke-width="2.45" stroke-linejoin="miter"/>
<path d="M701 246.4 L719.1 241.7 L722.8 259.4" fill="none" stroke="#fff" stroke-width="2.45" stroke-linejoin="miter"/>
</g>
<g transform="translate(639.2 396.2)"><circle r="8.1" fill="#000" stroke="#9c3fb8" stroke-width="1.3"/><path d="M1.8 -5 L-3.4 0.9 L-0.5 0.9 L-1.8 5 L3.4 -0.9 L0.5 -0.9 Z" fill="#a846c4"/><circle cx="5.5" cy="-5.2" r="2.7" fill="#f23645" stroke="#000" stroke-width="0.9"/></g>
<g transform="translate(678.0 396.1)"><circle r="8.25" fill="#000" stroke="#d12c3c" stroke-width="1.7"/><clipPath id="fc678"><circle r="6.7"/></clipPath><g clip-path="url(#fc678)"><rect x="-7" y="-7" width="14" height="14" fill="#f4f4f4"/><rect x="-7" y="-7" width="14" height="3.7" fill="#ef4b4b"/><rect x="-7" y="-1.7" width="14" height="3.3" fill="#ef4b4b"/><rect x="-7" y="3.9" width="14" height="3.2" fill="#ef4b4b"/><rect x="-7" y="-7" width="8.7" height="8.7" fill="#3b82f6"/><rect x="-4.949999999999999" y="-4.75" width="0.7" height="0.7" fill="#fff"/><rect x="-4.949999999999999" y="-2.75" width="0.7" height="0.7" fill="#fff"/><rect x="-4.949999999999999" y="-0.75" width="0.7" height="0.7" fill="#fff"/><rect x="-2.65" y="-4.75" width="0.7" height="0.7" fill="#fff"/><rect x="-2.65" y="-2.75" width="0.7" height="0.7" fill="#fff"/><rect x="-2.65" y="-0.75" width="0.7" height="0.7" fill="#fff"/><rect x="-0.35" y="-4.75" width="0.7" height="0.7" fill="#fff"/><rect x="-0.35" y="-2.75" width="0.7" height="0.7" fill="#fff"/><rect x="-0.35" y="-0.75" width="0.7" height="0.7" fill="#fff"/></g></g>
<g transform="translate(737 396.1)"><circle r="8.25" fill="#000" stroke="#d12c3c" stroke-width="1.7"/><clipPath id="fc737"><circle r="6.7"/></clipPath><g clip-path="url(#fc737)"><rect x="-7" y="-7" width="14" height="14" fill="#f4f4f4"/><rect x="-7" y="-7" width="14" height="3.7" fill="#ef4b4b"/><rect x="-7" y="-1.7" width="14" height="3.3" fill="#ef4b4b"/><rect x="-7" y="3.9" width="14" height="3.2" fill="#ef4b4b"/><rect x="-7" y="-7" width="8.7" height="8.7" fill="#3b82f6"/><rect x="-4.949999999999999" y="-4.75" width="0.7" height="0.7" fill="#fff"/><rect x="-4.949999999999999" y="-2.75" width="0.7" height="0.7" fill="#fff"/><rect x="-4.949999999999999" y="-0.75" width="0.7" height="0.7" fill="#fff"/><rect x="-2.65" y="-4.75" width="0.7" height="0.7" fill="#fff"/><rect x="-2.65" y="-2.75" width="0.7" height="0.7" fill="#fff"/><rect x="-2.65" y="-0.75" width="0.7" height="0.7" fill="#fff"/><rect x="-0.35" y="-4.75" width="0.7" height="0.7" fill="#fff"/><rect x="-0.35" y="-2.75" width="0.7" height="0.7" fill="#fff"/><rect x="-0.35" y="-0.75" width="0.7" height="0.7" fill="#fff"/></g></g>
<g transform="translate(802.1 396.1)"><circle r="8.25" fill="#000" stroke="#d12c3c" stroke-width="1.7"/><clipPath id="fc802"><circle r="6.7"/></clipPath><g clip-path="url(#fc802)"><rect x="-7" y="-7" width="14" height="14" fill="#f4f4f4"/><rect x="-7" y="-7" width="14" height="3.7" fill="#ef4b4b"/><rect x="-7" y="-1.7" width="14" height="3.3" fill="#ef4b4b"/><rect x="-7" y="3.9" width="14" height="3.2" fill="#ef4b4b"/><rect x="-7" y="-7" width="8.7" height="8.7" fill="#3b82f6"/><rect x="-4.949999999999999" y="-4.75" width="0.7" height="0.7" fill="#fff"/><rect x="-4.949999999999999" y="-2.75" width="0.7" height="0.7" fill="#fff"/><rect x="-4.949999999999999" y="-0.75" width="0.7" height="0.7" fill="#fff"/><rect x="-2.65" y="-4.75" width="0.7" height="0.7" fill="#fff"/><rect x="-2.65" y="-2.75" width="0.7" height="0.7" fill="#fff"/><rect x="-2.65" y="-0.75" width="0.7" height="0.7" fill="#fff"/><rect x="-0.35" y="-4.75" width="0.7" height="0.7" fill="#fff"/><rect x="-0.35" y="-2.75" width="0.7" height="0.7" fill="#fff"/><rect x="-0.35" y="-0.75" width="0.7" height="0.7" fill="#fff"/></g></g>
</svg>
<div class="lg lb" style="left:14.4px;font-size:9.3px;transform:scaleX(0.9935)">金／米ドル</div>
<div class="lg lb" style="left:61.75px;font-size:9.3px;transform:scaleX(0.9987)">・</div>
<div class="lg lb" style="left:72.4px;font-size:9.3px;transform:scaleX(0.9510)">1時間</div>
<div class="lg lb" style="left:95.75px;font-size:9.3px;transform:scaleX(0.9987)">・</div>
<div class="lg lb" style="left:105.7px;font-size:10px;transform:scaleX(0.7276)">FX</div>
<div class="lg lb" style="left:121.9px;font-size:9.3px;transform:scaleX(0.9565)">始値</div>
<div class="lg lv" style="left:140.8px;font-size:10.2px;transform:scaleX(0.9305)">3,324.07</div>
<div class="lg lb" style="left:183.75px;font-size:9.3px;transform:scaleX(0.9941)">高値</div>
<div class="lg lv" style="left:203.1px;font-size:10.2px;transform:scaleX(0.9305)">3,329.99</div>
<div class="lg lb" style="left:246.2px;font-size:9.3px;transform:scaleX(0.9941)">安値</div>
<div class="lg lv" style="left:265.5px;font-size:10.2px;transform:scaleX(0.9280)">3,323.49</div>
<div class="lg lb" style="left:308px;font-size:9.3px;transform:scaleX(1.0210)">終値</div>
<div class="lg lv" style="left:328px;font-size:10.2px;transform:scaleX(0.9179)">3,326.03</div>
<div class="lg lv" style="left:371px;font-size:10.2px;transform:scaleX(0.8828)">+1.96 (+0.06%)</div>
<div class="tl" style="left:33.3px">12</div>
<div class="tl" style="left:98px">13</div>
<div class="tl" style="left:162.5px">14</div>
<div class="tl" style="left:227.3px">17</div>
<div class="tl" style="left:292px">18</div>
<div class="tl" style="left:356.5px">19</div>
<div class="tl" style="left:421.3px">20</div>
<div class="tl" style="left:486px">21</div>
<div class="tl" style="left:551px">24</div>
<div class="tl" style="left:616px">25</div>
<div class="tl" style="left:681px">26</div>
<div class="tl" style="left:745.9px">27</div>
<div class="tl" style="left:810.8px">28</div>
<div class="tl" style="left:875.5px">7月</div>
<div class="tl" style="left:940px">2</div>
<div class="pl" style="top:74px">3,420.00</div>
<div class="pl" style="top:121.5px">3,400.00</div>
<div class="pl" style="top:169px">3,380.00</div>
<div class="pl" style="top:216.7px">3,360.00</div>
<div class="pl" style="top:264.2px">3,340.00</div>
<div class="pl" style="top:359.3px">3,300.00</div>
<div class="usd"><span style="display:inline-block;transform-origin:0 50%;transform:scaleX(0.79)">USD</span></div>
<div class="box" style="top:232px;height:12.6px;line-height:12.6px;background:#c6c6c6;color:#222;font-weight:normal;outline:1px dotted #8c8c8c;outline-offset:-1px"><span>3,354.07</span></div>
<div class="box" style="top:298.1px;height:24.8px;background:#2962ff;color:#fff;line-height:11.2px;padding-top:0.8px"><span>3,326.03</span><br><span style="font-weight:normal;color:#d5e0ff">13:07</span></div>
<div class="box" style="top:322.9px;height:13.2px;line-height:13.2px;background:#f23645;color:#fff"><span>3,322.96</span></div>
<svg style="position:absolute;left:7.9px;top:438.6px" width="15.4" height="7.7" viewBox="0 4 36 18" preserveAspectRatio="none"><path d="M14 22H7V11H0V4h14v18z M28 22h-8l7.5-18h8L28 22z" fill="#1a1a1a"/><circle cx="20" cy="8" r="4" fill="#1a1a1a"/></svg>
<div class="foot" style="letter-spacing:-0.043px">TradingView</div>
</body></html>
